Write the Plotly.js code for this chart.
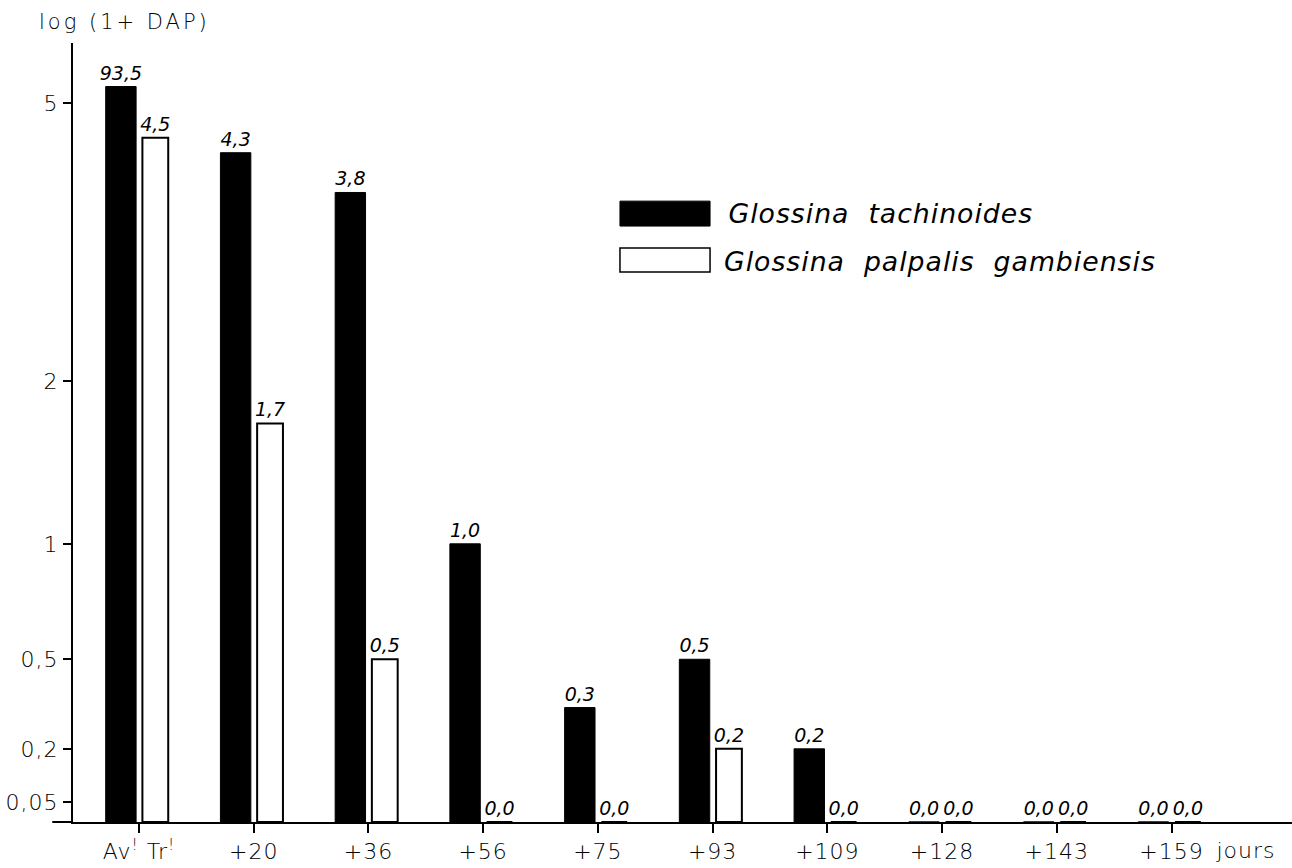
<!DOCTYPE html>
<html>
<head>
<meta charset="utf-8">
<script src="https://cdn.plot.ly/plotly-3.0.1.min.js"></script>
<style>
html,body{margin:0;padding:0;background:#fff;}
#chart{width:1292px;height:868px;}
#chart svg text{letter-spacing:1px;}
#chart svg text.bartext{letter-spacing:0px;}
#chart .annotation[data-index="2"] text{letter-spacing:3px;}
</style>
</head>
<body>
<div id="chart"></div>
<script>
// Categories (days after treatment)
const categories = ["Av<sup>!</sup> Tr<sup>!</sup>", "+20", "+36", "+56", "+75", "+93", "+109", "+128", "+143", "+159"];
// Bar heights read on the log(1+DAP) scale (value of DAP)
const tachinoides = [5.25, 4.3, 3.8, 1.0, 0.33, 0.5, 0.2, 0.0, 0.0, 0.0];
const palpalis    = [4.5, 1.7, 0.5, 0.0, 0.0, 0.2, 0.0, 0.0, 0.0, 0.0];
// Printed labels above bars
const tachinoidesLabels = ["93,5", "4,3", "3,8", "1,0", "0,3", "0,5", "0,2", "0,0", "0,0", "0,0"];
const palpalisLabels    = ["4,5", "1,7", "0,5", "0,0", "0,0", "0,2", "0,0", "0,0", "0,0", "0,0"];
// Y ticks
const yTickValues = [0.05, 0.2, 0.5, 1, 2, 5];
const yTickLabels = ["0,05", "0,2", "0,5", "1", "2", "5"];
const seriesNames = ["Glossina\u00a0 tachinoides", "Glossina\u00a0 palpalis\u00a0 gambiensis"];

const tf = v => Math.log10(1 + v);
const xIdx = categories.map((c, i) => i);

const FONT = "'DejaVu Sans', 'Open Sans', sans-serif";
const W = 200;
const labelFont = {family: FONT, size: 19, color: "#000", style: "italic", weight: W};

const traces = [
  {
    type: "bar", name: seriesNames[0], x: xIdx, y: tachinoides.map(tf),
    width: 0.265, offset: -0.29,
    marker: {color: "#000", line: {color: "#000", width: 1}},
    text: tachinoidesLabels, textposition: "outside", constraintext: "none",
    cliponaxis: false, textfont: labelFont, hoverinfo: "skip", showlegend: false
  },
  {
    type: "bar", name: seriesNames[1], x: xIdx, y: palpalis.map(tf),
    width: 0.225, offset: 0.03,
    marker: {color: "#fff", line: {color: "#000", width: 2}},
    text: palpalisLabels, textposition: "outside", constraintext: "none",
    cliponaxis: false, textfont: labelFont, hoverinfo: "skip", showlegend: false
  }
];

const layout = {
  width: 1292, height: 868,
  margin: {l: 73, r: 0, t: 43, b: 46},
  paper_bgcolor: "#fff", plot_bgcolor: "#fff",
  barmode: "overlay",
  showlegend: false,
  font: {family: FONT, color: "#000", weight: W},
  xaxis: {
    range: [-0.575, 10.05],
    tickmode: "array", tickvals: xIdx, ticktext: categories,
    showgrid: false, zeroline: false,
    showline: true, linecolor: "#000", linewidth: 2,
    ticks: "outside", ticklen: 9, tickwidth: 2, tickcolor: "#000",
    tickfont: {family: FONT, size: 22, color: "#000", weight: W}
  },
  yaxis: {
    range: [0, 0.843],
    tickmode: "array", tickvals: yTickValues.map(tf), ticktext: yTickLabels,
    showgrid: false, zeroline: false,
    showline: true, linecolor: "#000", linewidth: 2,
    ticks: "outside", ticklen: 8, tickwidth: 2, tickcolor: "#000",
    tickfont: {family: FONT, size: 22, color: "#000", weight: W}
  },
  shapes: [
    {type: "line", xref: "paper", yref: "paper", x0: -0.017, x1: 0, y0: 0, y1: 0, line: {color: "#000", width: 2}},
    {type: "rect", xref: "paper", yref: "paper", x0: 0.4487, x1: 0.5226, y0: 0.765, y1: 0.797, fillcolor: "#000", line: {color: "#000", width: 1}},
    {type: "rect", xref: "paper", yref: "paper", x0: 0.4487, x1: 0.5226, y0: 0.706, y1: 0.737, fillcolor: "#fff", line: {color: "#000", width: 1.5}}
  ],
  annotations: [
    {xref: "paper", yref: "paper", x: 0.545, y: 0.781, xanchor: "left", yanchor: "middle", showarrow: false,
     text: seriesNames[0], font: {family: FONT, size: 26.7, color: "#000", style: "italic", weight: W}},
    {xref: "paper", yref: "paper", x: 0.545, y: 0.72, xanchor: "left", yanchor: "middle", showarrow: false,
     text: seriesNames[1], font: {family: FONT, size: 26.7, color: "#000", style: "italic", weight: W}},
    {xref: "paper", yref: "paper", x: -0.015, y: 1.027, xanchor: "left", yanchor: "middle", showarrow: false,
     text: "log (1+ DAP)", font: {family: FONT, size: 21, color: "#000", weight: W}},
    {xref: "paper", yref: "paper", x: 0.962, y: -0.037, xanchor: "center", yanchor: "middle", showarrow: false,
     text: "jours", font: {family: FONT, size: 22, color: "#000", weight: W}}
  ]
};

Plotly.newPlot("chart", traces, layout, {displayModeBar: false, staticPlot: true});
</script>
</body>
</html>
